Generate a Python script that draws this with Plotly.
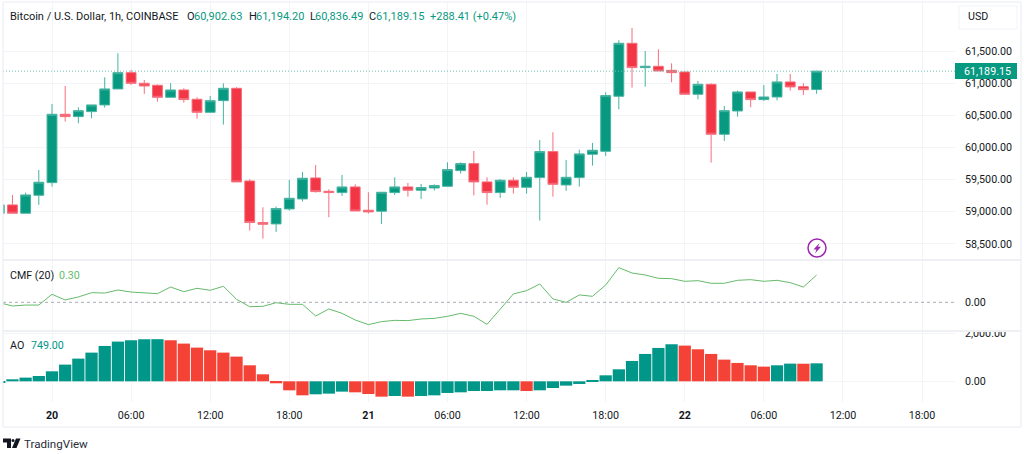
import pandas as pd
import numpy as np
import plotly.graph_objects as go
from plotly.subplots import make_subplots

# Candles, one per hour, from 19th 20:00 to 22nd 10:00
hours = pd.date_range("2024-08-19 20:00", periods=63, freq="h")

opens = [58976, 59106, 58976, 59256, 59453, 60517, 60481, 60559, 60663, 60912, 61166, 61000, 60969, 60782, 60896, 60751,
         60548, 60730, 60922, 59479, 58831, 58810, 59043, 59199, 59526, 59318, 59298, 59386, 59023, 59007, 59298, 59386,
         59334, 59370, 59396, 59640, 59749, 59464, 59298, 59490, 59381, 59531, 59936, 59417, 59531, 59895, 59941, 60798,
         61623, 61244, 61265, 61202, 61176, 60829, 60984, 60206, 60569, 60865, 60746, 60787, 61021, 60948, 60902.63]
highs = [59106, 59261, 59298, 59651, 60678, 60958, 60626, 60663, 61093, 61467, 61208, 61052, 60984, 61000, 60922, 60782,
         60803, 61000, 60938, 59505, 59069, 59080, 59495, 59619, 59728, 59350, 59573, 59427, 59303, 59303, 59536, 59448,
         59433, 59427, 59770, 59770, 59946, 59536, 59510, 59536, 59619, 60118, 60237, 59806, 59967, 60071, 60860, 61670,
         61862, 61503, 61529, 61311, 61187, 61036, 61000, 60647, 60886, 60865, 60974, 61145, 61145, 61000, 61194.20]
lows = [58976, 58976, 58976, 59106, 59391, 60403, 60377, 60455, 60621, 60912, 60974, 60834, 60715, 60782, 60699, 60450,
        60543, 60356, 59464, 58706, 58581, 58685, 59017, 59158, 59298, 58914, 59246, 59012, 58971, 58810, 59261, 59235,
        59199, 59329, 59391, 59594, 59256, 59111, 59215, 59282, 59282, 58862, 59235, 59324, 59391, 59718, 59869, 60595,
        60933, 60948, 61192, 61016, 60829, 60751, 59765, 60102, 60481, 60626, 60725, 60735, 60886, 60818, 60836.49]
closes = [59106, 58976, 59261, 59459, 60517, 60481, 60574, 60663, 60912, 61166, 61000, 60958, 60782, 60896, 60746, 60548,
          60730, 60922, 59464, 58831, 58805, 59049, 59209, 59521, 59313, 59298, 59386, 59012, 58997, 59303, 59386, 59334,
          59376, 59407, 59656, 59749, 59464, 59298, 59490, 59381, 59536, 59936, 59427, 59536, 59900, 59957, 60808, 61623,
          61244, 61265, 61192, 61166, 60829, 60984, 60206, 60574, 60865, 60746, 60787, 61021, 60943, 60901, 61189.15]

cmf = [-0.004, -0.04, -0.03, -0.03, 0.088, 0.026, 0.059, 0.106, 0.102, 0.135, 0.113, 0.106, 0.095, 0.168, 0.117, 0.154,
       0.132, 0.176, 0.033, -0.048, -0.044, -0.004, -0.022, -0.022, -0.15, -0.073, -0.121, -0.194, -0.245, -0.212, -0.198, -0.201,
       -0.183, -0.176, -0.154, -0.121, -0.154, -0.242, -0.077, 0.092, 0.128, 0.201, 0.037, 0.0, 0.081, 0.066, 0.19, 0.381,
       0.322, 0.30, 0.264, 0.26, 0.231, 0.238, 0.209, 0.209, 0.242, 0.249, 0.231, 0.242, 0.216, 0.168, 0.30]

ao = [-70, 83, 153, 222, 417, 695, 945, 1195, 1473, 1654, 1710, 1751, 1755, 1710, 1571, 1404,
      1293, 1195, 1029, 667, 292, -83, -375, -584, -542, -514, -431, -459, -528, -639, -612, -639,
      -612, -584, -486, -459, -403, -403, -375, -375, -403, -375, -278, -181, -111, 25, 250, 500,
      848, 1140, 1390, 1543, 1487, 1334, 1140, 903, 765, 667, 612, 667, 737, 733, 749]

time_ticks = ["2024-08-20 00:00", "2024-08-20 06:00", "2024-08-20 12:00", "2024-08-20 18:00",
              "2024-08-21 00:00", "2024-08-21 06:00", "2024-08-21 12:00", "2024-08-21 18:00",
              "2024-08-22 00:00", "2024-08-22 06:00", "2024-08-22 12:00", "2024-08-22 18:00"]
time_labels = ["<b>20</b>", "06:00", "12:00", "18:00", "<b>21</b>", "06:00", "12:00", "18:00",
               "<b>22</b>", "06:00", "12:00", "18:00"]
price_ticks = [58500, 59000, 59500, 60000, 60500, 61000, 61500]

GREEN = "#089981"
RED = "#F23645"
TEXT = "#131722"
GRID = "#f3f4f8"
FONT = "Roboto"
W, H = 1024, 454


# Page pixels to paper coordinates
def px(x):
    return x / W


def py(y):
    return 1 - y / H


def poly(points):
    return "M " + " L ".join(f"{px(x):.5f},{py(y):.5f}" for x, y in points) + " Z"


fig = make_subplots(rows=3, cols=1, shared_xaxes=True)

fig.add_trace(go.Candlestick(
    x=hours, open=opens, high=highs, low=lows, close=closes,
    increasing=dict(line=dict(color="#45b3a0", width=1), fillcolor=GREEN),
    decreasing=dict(line=dict(color="#f56f7c", width=1), fillcolor=RED),
    whiskerwidth=0), row=1, col=1)

fig.add_trace(go.Scatter(x=hours, y=cmf, mode="lines", line=dict(color="#66BB6A", width=1)), row=2, col=1)

# AO bars are green when rising, red when falling
ao_rising = np.diff(ao, prepend=ao[0]) >= 0
fig.add_trace(go.Bar(x=hours, y=ao, marker=dict(color=["#009688" if r else "#F44336" for r in ao_rising], line_width=0)),
              row=3, col=1)

# Same date axis setup on all panes
for r in [1, 2, 3]:
    fig.update_xaxes(range=["2024-08-19 20:17", "2024-08-22 20:30"], tickvals=time_ticks, ticktext=time_labels,
                     showgrid=True, gridcolor=GRID, gridwidth=1, zeroline=False, showline=False, ticks="",
                     rangeslider_visible=False, row=r, col=1)
fig.update_xaxes(tickfont=dict(family=FONT, size=10.7, color=TEXT), ticklabelstandoff=5, row=3, col=1)

fig.update_yaxes(range=[58248, 62266], tickvals=price_ticks, row=1, col=1)
fig.update_yaxes(range=[-0.315, 0.454], tickvals=[0], showgrid=False, row=2, col=1)
fig.update_yaxes(range=[-862, 2054], tickvals=[0, 2000], row=3, col=1)
fig.update_yaxes(side="right", tickformat=",.2f", tickfont=dict(family=FONT, size=10.7, color=TEXT), gridcolor=GRID,
                 zeroline=False, showline=False, ticks="", ticklabelstandoff=9)

fig.update_layout(
    width=W, height=H, margin=dict(l=0, r=0, t=0, b=0, autoexpand=False), paper_bgcolor="white", plot_bgcolor="white",
    showlegend=False, boxgap=0.17, boxgroupgap=0.1, bargap=0.07, font=dict(family=FONT, color=TEXT),
    xaxis=dict(domain=[px(3), px(955)]), xaxis2=dict(domain=[px(3), px(955)]), xaxis3=dict(domain=[px(3), px(955)]),
    yaxis=dict(domain=[py(260), py(2)]), yaxis2=dict(domain=[py(331), py(261)]), yaxis3=dict(domain=[py(402), py(332)]),
)

# Last price dotted line and CMF zero line
fig.add_shape(type="line", xref="paper", yref="y", x0=px(3), x1=px(955), y0=closes[-1], y1=closes[-1],
              line=dict(color="#6cc0b0", width=1, dash="1px,2px"))
fig.add_shape(type="line", xref="paper", yref="y2", x0=px(3), x1=px(955), y0=0, y1=0,
              line=dict(color="#a8acb5", width=1, dash="3px,3px"))

# The 2,000.00 label is cut off by the top of its pane
fig.add_shape(type="rect", xref="paper", yref="paper", x0=px(956), x1=px(1020), y0=py(332), y1=py(322),
              fillcolor="white", line_width=0)

# Frame and pane separators
fig.add_shape(type="rect", xref="paper", yref="paper", x0=px(3), x1=px(1021), y0=py(427), y1=py(2),
              line=dict(color="#e9ebf1", width=1))
for y in [260, 331]:
    fig.add_shape(type="line", xref="paper", yref="paper", x0=px(3), x1=px(1021), y0=py(y), y1=py(y),
                  line=dict(color="#e9ebf1", width=1.5))

# USD button
fig.add_shape(type="rect", xref="paper", yref="paper", x0=px(959), x1=px(1017), y0=py(29), y1=py(6),
              line=dict(color="#f0f3fa", width=1), fillcolor="white")

# Lightning badge
fig.add_shape(type="circle", xref="paper", yref="paper", x0=px(808), x1=px(826), y0=py(257), y1=py(239),
              line=dict(color="#9C27B0", width=1.5), fillcolor="white")
fig.add_shape(type="path", xref="paper", yref="paper", line_width=0, fillcolor="#9C27B0",
              path=poly([(819.5, 243), (813.5, 249.5), (816.5, 249.5), (815, 253.5), (821, 246.8), (818, 246.8)]))

# TradingView logo
fig.add_shape(type="path", xref="paper", yref="paper", line_width=0, fillcolor=TEXT,
              path=poly([(3, 438.5), (11, 438.5), (11, 448), (7, 448), (7, 442.5), (3, 442.5)]))
fig.add_shape(type="circle", xref="paper", yref="paper", line_width=0, fillcolor=TEXT,
              x0=px(11.5), x1=px(14.5), y0=py(442), y1=py(439))
fig.add_shape(type="path", xref="paper", yref="paper", line_width=0, fillcolor=TEXT,
              path=poly([(16, 438.5), (20.5, 438.5), (16.5, 448), (12, 448)]))


def label(x, y, text, color=TEXT, size=11, **kwargs):
    fig.add_annotation(xref="paper", yref="paper", x=px(x), y=py(y), text=text, showarrow=False, xanchor="left",
                       yanchor="middle", xshift=-2, font=dict(family=FONT, size=size, color=color), **kwargs)


label(10, 16, "Bitcoin / U.S. Dollar, 1h, COINBASE")
label(187, 16, "O")
label(194, 16, "60,902.63", GREEN)
label(249, 16, "H")
label(256, 16, "61,194.20", GREEN)
label(310, 16, "L")
label(315, 16, "60,836.49", GREEN)
label(369, 16, "C")
label(376, 16, "61,189.15", GREEN)
label(430, 16, "+288.41 (+0.47%)", GREEN)
label(968, 17, "USD", size=10.7)
label(10, 275, "CMF (20)", size=10.7)
label(59, 275, "0.30", "#66BB6A", size=10.7)
label(10, 345.5, "AO", size=10.7)
label(31, 345.5, "749.00", "#009688", size=10.7)
label(24, 444, "TradingView", "#2a2e39", size=11.6)

# Current price tag
fig.add_shape(type="rect", xref="paper", yref="paper", x0=px(955), x1=px(1017), y0=py(79), y1=py(63),
              fillcolor=GREEN, line_width=0)
label(964, 71, "61,189.15", "white", size=10.7)

fig.write_html("out.html", config={"displayModeBar": False},
               post_script="document.body.style.margin='0';")
